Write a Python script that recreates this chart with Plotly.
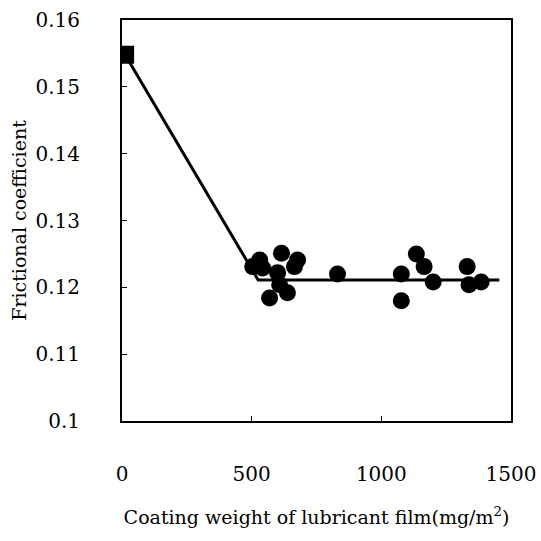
import plotly.graph_objects as go

# Data
sq_x = [12]
sq_y = [0.1548]

pts_x = [504, 531, 542, 615, 677, 665, 600, 608, 638, 569, 831, 1077, 1077, 1135, 1165, 1200, 1331, 1338, 1385]
pts_y = [0.1231, 0.1241, 0.1229, 0.1251, 0.1241, 0.1231, 0.1222, 0.1204, 0.1192, 0.1184,
         0.1220, 0.1220, 0.1180, 0.1250, 0.1231, 0.1208, 0.1231, 0.1204, 0.1208]

fit_x = [12, 525, 1455]
fit_y = [0.1548, 0.1211, 0.1211]

x_ticks = [0, 500, 1000, 1500]
y_ticks = [0.10, 0.11, 0.12, 0.13, 0.14, 0.15, 0.16]
y_ticklabels = ["0.1", "0.11", "0.12", "0.13", "0.14", "0.15", "0.16"]

FONT = "DejaVu Serif, serif"

fig = go.Figure()
fig.add_trace(go.Scatter(x=fit_x, y=fit_y, mode="lines",
                         line=dict(color="black", width=3), showlegend=False))
fig.add_trace(go.Scatter(x=pts_x, y=pts_y, mode="markers",
                         marker=dict(symbol="circle", size=17, color="black"), showlegend=False))
fig.add_trace(go.Scatter(x=sq_x, y=sq_y, mode="markers",
                         marker=dict(symbol="square", size=18, color="black"), showlegend=False))

fig.update_layout(
    width=541, height=541,
    margin=dict(l=122, r=30, t=20, b=120),
    paper_bgcolor="white", plot_bgcolor="white",
    font=dict(family=FONT, color="black", size=20),
    xaxis=dict(range=[0, 1500], tickvals=x_ticks, ticks="inside", ticklen=5,
               tickcolor="black", showline=True, linecolor="black", linewidth=2,
               mirror=True, showgrid=False, zeroline=False, automargin=False,
               ticklabelstandoff=34, tickfont=dict(size=20, family=FONT),
               title=dict(text="Coating weight of lubricant film(mg/m<sup>2</sup>)",
                          font=dict(size=19, family=FONT), standoff=26)),
    yaxis=dict(range=[0.1, 0.16], tickvals=y_ticks, ticktext=y_ticklabels,
               ticks="inside", ticklen=5, tickcolor="black",
               showline=True, linecolor="black", linewidth=2, mirror=True,
               showgrid=False, zeroline=False, automargin=False,
               ticklabelstandoff=36, tickfont=dict(size=20, family=FONT),
               title=dict(text="Frictional coefficient",
                          font=dict(size=19, family=FONT), standoff=4)),
)

fig.write_html("out.html", config={"displayModeBar": False},
               post_script="document.body.style.margin='0';")
